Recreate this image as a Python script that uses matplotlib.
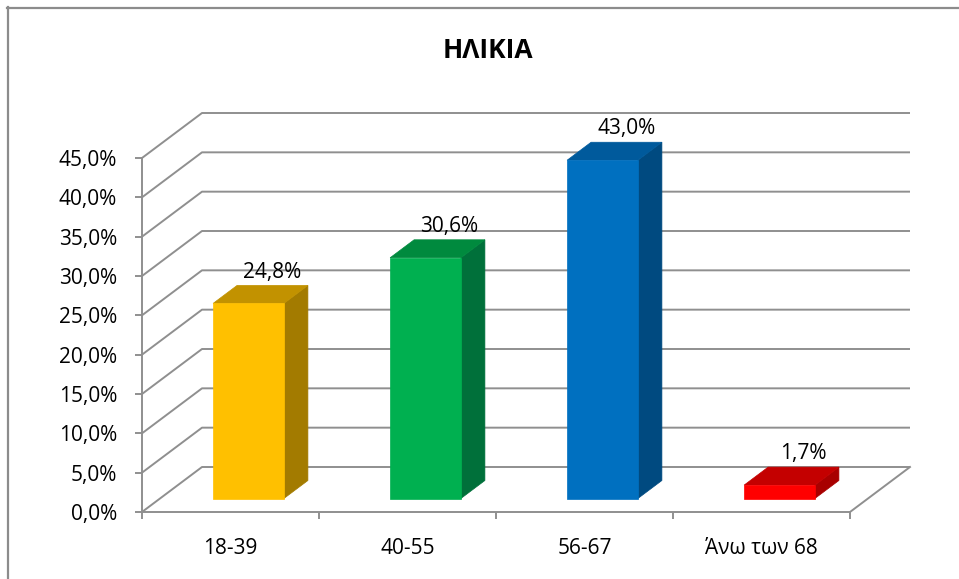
import matplotlib
matplotlib.use("Agg")
import matplotlib.pyplot as plt
from matplotlib.patches import Polygon
from matplotlib.lines import Line2D

plt.rcParams['font.family'] = ['Open Sans', 'DejaVu Sans']

# ---- data ----
title = "ΗΛΙΚΙΑ"
categories = ["18-39", "40-55", "56-67", "Άνω των 68"]
values = [24.8, 30.6, 43.0, 1.7]
value_labels = ["24,8%", "30,6%", "43,0%", "1,7%"]
ytick_values = [0, 5, 10, 15, 20, 25, 30, 35, 40, 45]
ytick_labels = ["0,0%", "5,0%", "10,0%", "15,0%", "20,0%", "25,0%", "30,0%", "35,0%", "40,0%", "45,0%"]
front_colors = ["#FFC000", "#00B050", "#0070C0", "#FF0000"]
side_colors = ["#A37B00", "#00703A", "#004A80", "#A80000"]
top_colors = ["#C29200", "#008A3E", "#005A9C", "#C40000"]

# ---- pseudo-3D geometry (data units) ----
DX = 0.339      # depth offset in category units
DY = 5.72       # depth offset in percent units
YMAX = 45
BW = 0.40       # bar width
F0, F1 = 0.30, 0.70   # bar depth span (fraction of full depth)
GRID = "#8F8F8F"

W, H = 959, 579
fig = plt.figure(figsize=(W / 100, H / 100), dpi=100)
fig.patch.set_facecolor("white")

ax = fig.add_axes([142 / W, (H - 512) / H, (910 - 142) / W, (512 - 113) / H])
n = len(categories)
ax.set_xlim(0, n + DX)
ax.set_ylim(0, YMAX + DY)
ax.set_facecolor("none")
for s in ["top", "right"]:
    ax.spines[s].set_visible(False)
ax.spines["left"].set_bounds(0, YMAX)
ax.spines["bottom"].set_bounds(0, n)
for s in ["left", "bottom"]:
    ax.spines[s].set_color(GRID)
    ax.spines[s].set_linewidth(1.4)


def P(x, y, f):
    return (x + f * DX, y + f * DY)


# gridlines: left wall diagonal + back wall horizontal
for yv in ytick_values:
    xs = [0, DX, n + DX]
    ys = [yv, yv + DY, yv + DY]
    ax.plot(xs, ys, color=GRID, lw=1.4, zorder=1, clip_on=False, solid_capstyle="butt")
# floor right edge
ax.plot([n, n + DX], [0, DY], color=GRID, lw=1.4, zorder=1, clip_on=False)

# bars
for i, v in enumerate(values):
    x0 = i + 0.5 - BW / 2
    x1 = i + 0.5 + BW / 2
    front = [P(x0, 0, F0), P(x1, 0, F0), P(x1, v, F0), P(x0, v, F0)]
    side = [P(x1, 0, F0), P(x1, 0, F1), P(x1, v, F1), P(x1, v, F0)]
    top = [P(x0, v, F0), P(x1, v, F0), P(x1, v, F1), P(x0, v, F1)]
    for poly, c in [(side, side_colors[i]), (top, top_colors[i]), (front, front_colors[i])]:
        ax.add_patch(Polygon(poly, closed=True, facecolor=c, edgecolor=c, lw=0.5,
                             zorder=3, clip_on=False))
    lx, ly = P(i + 0.5, v, F1)
    ax.annotate(value_labels[i], (lx, ly), xytext=(0, 2), textcoords="offset points",
                ha="center", va="bottom", fontsize=15, color="black", zorder=5,
                annotation_clip=False)

# ticks
ax.set_yticks(ytick_values)
ax.set_yticklabels(ytick_labels)
ax.tick_params(axis="y", direction="out", length=5, width=1.4, color=GRID,
               labelsize=15, pad=13, labelcolor="black")
ax.set_xticks(range(n + 1))
ax.set_xticklabels([""] * (n + 1))
ax.set_xticks([i + 0.5 for i in range(n)], minor=True)
ax.set_xticklabels(categories, minor=True)
ax.tick_params(axis="x", which="major", direction="out", length=5, width=1.4, color=GRID)
ax.tick_params(axis="x", which="minor", length=0, labelsize=15, pad=19, labelcolor="black")

# title
fig.text(487.5 / W, 1 - 51 / H, title, ha="center", va="center",
         fontsize=19, fontweight="bold", color="black")

# chart border (left & top)
fig.add_artist(Line2D([7.5 / W, 7.5 / W], [0, 1 - 7 / H], transform=fig.transFigure,
                      color="#8C8C8C", lw=1.6))
fig.add_artist(Line2D([7 / W, 1], [1 - 7.5 / H, 1 - 7.5 / H], transform=fig.transFigure,
                      color="#8C8C8C", lw=1.6))

fig.savefig("out.png", dpi=100)
